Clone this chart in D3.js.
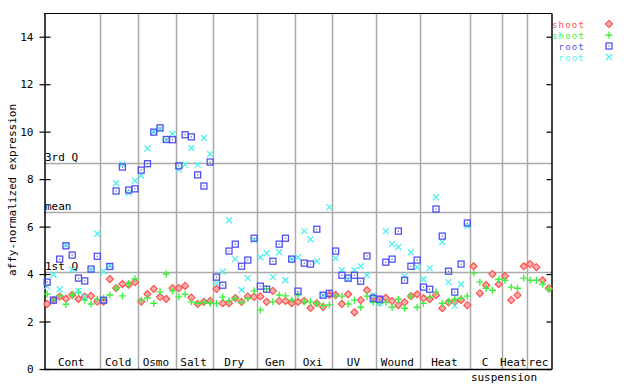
<!DOCTYPE html>
<html><head><meta charset="utf-8">
<script src="https://cdn.jsdelivr.net/npm/d3@7"></script>
<style>body{margin:0;background:#fff}svg{display:block}text{font-family:"DejaVu Sans Mono",monospace;font-size:11px}</style>
</head><body><svg id="c" width="640" height="384"></svg>
<script>
const groups = ["Cont","Cold","Osmo","Salt","Dry","Gen","Oxi","UV","Wound","Heat","C","Heat","rec"];
const groupSizes = [9,6,6,6,7,6,6,7,7,8,5,4,4];
const subLabel = "suspension";
const yTicks = [0,2,4,6,8,10,12,14];
const refLines = [{label:"3rd Q", v:8.68},{label:"mean", v:6.61},{label:"1st Q", v:4.08}];
const seriesNames = ["shoot","shoot","root","root"];
const shootA = [2.74,2.91,3.05,2.96,3.12,2.95,3.05,3.08,2.84,
  2.84,3.79,3.41,3.58,3.55,3.66,
  2.84,3.16,3.37,3.04,2.95,3.41,
  3.41,3.50,3.01,2.74,2.83,2.87,
  3.37,2.77,2.77,2.99,2.83,3.06,3.04,
  3.06,2.83,3.29,2.87,2.87,2.77,
  2.83,2.87,2.57,2.77,2.62,3.12,
  3.12,2.74,3.15,2.39,2.90,3.32,3.03,
  2.94,3.00,2.86,2.69,2.81,3.07,3.15,
  2.98,2.94,3.11,2.56,2.81,2.84,2.90,2.69,
  4.33,3.19,3.53,4.00,3.57,
  3.91,2.90,3.11,4.33,
  4.42,4.29,3.74,3.40];
const shootB = [3.16,2.91,3.08,2.73,3.12,3.25,2.90,2.74,2.94,
  2.98,3.12,3.40,3.08,3.59,3.80,
  2.90,2.99,2.77,3.25,4.00,3.29,
  3.04,3.15,2.83,2.77,2.81,2.77,
  2.76,3.03,2.88,2.97,2.80,2.97,3.29,
  2.49,3.38,2.83,3.12,3.08,2.91,
  3.12,2.83,2.83,2.76,2.67,2.70,
  3.08,3.07,2.74,2.90,2.60,3.07,2.81,
  2.77,2.81,2.60,2.94,2.56,3.07,2.60,
  2.77,3.03,3.24,2.77,2.85,2.94,2.98,3.07,
  4.04,3.66,3.40,3.32,3.78,
  3.74,3.45,3.40,3.83,
  3.74,3.74,3.57,3.36];
const rootA = [3.66,2.90,4.63,5.19,4.80,3.83,3.71,4.21,4.75,
  2.90,4.32,7.50,8.51,7.54,7.59,
  8.38,8.65,9.98,10.16,9.67,9.66,
  8.56,9.87,9.78,8.18,7.71,8.72,
  3.87,3.53,4.97,5.26,4.33,4.59,5.51,
  3.49,3.36,4.54,5.26,5.51,4.63,
  3.28,4.46,4.42,5.89,3.11,3.19,
  4.97,3.95,3.83,3.95,3.70,4.76,2.98,
  2.94,4.50,4.63,5.81,3.74,4.33,4.59,
  3.45,3.36,6.74,5.60,4.12,3.24,4.42,6.15];
const rootB = [3.48,3.97,3.36,5.22,4.18,3.29,3.04,4.17,5.70,
  4.11,4.35,7.83,8.63,7.41,7.93,
  8.14,9.29,10.00,10.10,9.66,9.91,
  8.40,8.61,9.31,8.61,9.73,9.06,
  3.62,4.10,6.27,4.63,3.33,3.83,5.43,
  4.71,4.88,3.87,4.92,3.74,4.63,
  4.71,5.81,5.47,4.54,3.11,6.82,
  4.67,4.16,3.78,4.16,4.33,3.95,3.11,
  2.77,5.81,5.26,5.14,3.91,4.92,4.29,
  3.78,4.25,7.24,5.35,3.66,2.66,3.57,6.03];

const svg = d3.select("#c");
const L=44, R=552, T=13, B=369;
const n = d3.sum(groupSizes);
const x = d3.scaleBand().domain(d3.range(n)).range([L,R]).padding(0);
const cx = i => x(i) + x.bandwidth()/2;
const y = d3.scaleLinear().domain([0,15]).range([B,T]);
const gray = "#aaaaaa";
const cols = ["#ff5050","#40f040","#5050f0","#50f0f0"];

// group separators
const starts = []; let acc = 0;
groupSizes.forEach(s => { starts.push(acc); acc += s; });
svg.append("g").selectAll("line").data(starts.slice(1)).join("line")
  .attr("x1", d => Math.round(x(d))+0.5).attr("x2", d => Math.round(x(d))+0.5)
  .attr("y1", T).attr("y2", B).attr("stroke", gray).attr("stroke-width",1.5);
// reference lines
svg.append("g").selectAll("line").data(refLines).join("line")
  .attr("x1", L).attr("x2", R).attr("y1", d => Math.round(y(d.v))+0.5).attr("y2", d => Math.round(y(d.v))+0.5)
  .attr("stroke", gray).attr("stroke-width",1.5);
svg.append("g").selectAll("text").data(refLines).join("text")
  .attr("x", L+1).attr("y", d => y(d.v)-2).text(d => d.label).attr("fill","#000");

// axes
const axL = svg.append("g").attr("transform",`translate(${L+0.5},0)`)
  .call(d3.axisLeft(y).tickValues(yTicks).tickSize(5).tickPadding(6).tickSizeOuter(0));
axL.selectAll(".tick line").clone().attr("x2",6);
const axR = svg.append("g").attr("transform",`translate(${R-0.5},0)`)
  .call(d3.axisLeft(y).tickValues(yTicks).tickSize(-0).tickSizeOuter(0));
axR.selectAll(".tick text").remove();
axR.selectAll(".tick line").attr("x2",-5);
svg.selectAll(".domain").attr("stroke","#000").attr("stroke-width",1.5);
svg.selectAll(".tick line").attr("stroke","#000").attr("stroke-width",1.2);
axL.selectAll(".tick text").attr("font-size","11px").attr("font-family","DejaVu Sans Mono").attr("fill","#000");
// top & bottom borders
svg.append("line").attr("x1",L).attr("x2",R).attr("y1",B+0.5).attr("y2",B+0.5).attr("stroke","#000").attr("stroke-width",1.5);
svg.append("line").attr("x1",L).attr("x2",R).attr("y1",T+0.5).attr("y2",T+0.5).attr("stroke","#000").attr("stroke-width",1);

// group labels
svg.append("g").selectAll("text").data(groups).join("text")
  .attr("x",(d,i)=> (x(starts[i]) + (i<groups.length-1 ? x(starts[i+1]) : R))/2 - 1)
  .attr("y", B-3).attr("text-anchor","middle").text(d=>d);
svg.append("text").attr("x", 504).attr("y", 381).attr("text-anchor","middle").text(subLabel);

// y label
svg.append("text").attr("transform","translate(16,190) rotate(-90)").attr("text-anchor","middle").text("affy-normalized expression");

// markers
const shapes = {
  diamond: g => g.append("path").attr("d","M0,-3.5L3.5,0L0,3.5L-3.5,0Z").attr("fill","#ffb0b0").attr("stroke",cols[0]).attr("stroke-width",1.2),
  plus: g => g.append("path").attr("d","M-3.5,0H3.5M0,-3.5V3.5").attr("stroke",cols[1]).attr("stroke-width",1.4).attr("fill","none"),
  square: g => { g.append("rect").attr("x",-3).attr("y",-3).attr("width",6).attr("height",6).attr("fill","none").attr("stroke",cols[2]).attr("stroke-width",1.3);
                 g.append("rect").attr("x",-0.6).attr("y",-0.6).attr("width",1.2).attr("height",1.2).attr("fill",cols[2]); },
  cross: g => g.append("path").attr("d","M-3,-3L3,3M3,-3L-3,3").attr("stroke",cols[3]).attr("stroke-width",1.3).attr("fill","none")
};
const series = [[shootA,"diamond"],[shootB,"plus"],[rootB,"cross"],[rootA,"square"]];
series.forEach(([vals,shape]) => {
  const g = svg.append("g").selectAll("g").data(vals).join("g")
    .attr("transform",(d,i)=>`translate(${cx(i)},${y(d)})`);
  g.each(function(){ shapes[shape](d3.select(this)); });
});

// legend
const legShapes = ["diamond","plus","square","cross"];
seriesNames.forEach((nm,k) => {
  const yy = 24 + k*11;
  svg.append("text").attr("x",585).attr("y",yy+3.5).attr("text-anchor","end")
    .style("font-size","9px").style("letter-spacing","1.2px").attr("fill",cols[k]).text(nm);
  shapes[legShapes[k]](svg.append("g").attr("transform",`translate(609,${yy})`));
});
</script></body></html>
